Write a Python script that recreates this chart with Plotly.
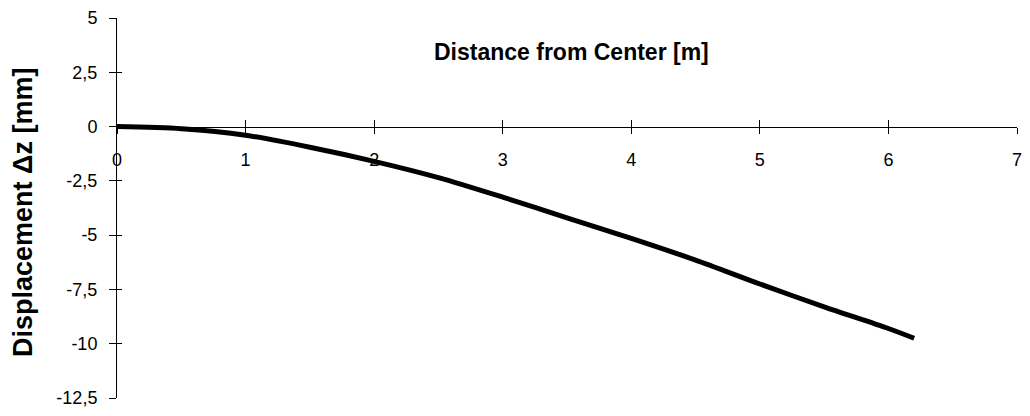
import plotly.graph_objects as go

# Radial profile: distance from centre [m] vs vertical displacement [mm]
distance_m = [0, 0.5, 1, 1.5, 2, 2.5, 3, 3.5, 4, 4.5, 5, 5.5, 6, 6.2]
displacement_mm = [0, -0.1, -0.4, -0.95, -1.6, -2.35, -3.25, -4.2, -5.15, -6.15, -7.25, -8.3, -9.3, -9.75]

x_ticks = [0, 1, 2, 3, 4, 5, 6, 7]
y_ticks = [5, 2.5, 0, -2.5, -5, -7.5, -10, -12.5]
y_tick_text = ["5", "2,5", "0", "-2,5", "-5", "-7,5", "-10", "-12,5"]

X_RANGE = [0, 7]
Y_RANGE = [-12.5, 5]
FONT = "Liberation Sans, Arial, sans-serif"
zero_pos = (0 - Y_RANGE[0]) / (Y_RANGE[1] - Y_RANGE[0])

fig = go.Figure()
fig.add_trace(go.Scatter(
    x=distance_m, y=displacement_mm, mode="lines",
    line=dict(color="black", width=5, shape="spline", smoothing=0.8),
    hoverinfo="skip", showlegend=False,
))
# companion trace on the overlay axes (carries the upper/right half of the cross ticks)
fig.add_trace(go.Scatter(
    x=distance_m, y=displacement_mm, mode="lines",
    line=dict(color="rgba(0,0,0,0)", width=0),
    xaxis="x2", yaxis="y2", hoverinfo="skip", showlegend=False,
))

axis_common = dict(showgrid=False, zeroline=False, color="black",
                   tickcolor="black", tickwidth=1)

fig.update_layout(
    width=1030, height=416,
    margin=dict(l=117, r=8, t=13, b=18),
    paper_bgcolor="white", plot_bgcolor="white",
    font=dict(family=FONT, color="black", size=18),
    xaxis=dict(
        range=X_RANGE, anchor="free", position=zero_pos,
        showline=True, linecolor="black", linewidth=1,
        tickvals=x_ticks, ticks="outside", ticklen=6,
        ticklabelstandoff=11, tickfont=dict(size=18),
        **axis_common,
    ),
    xaxis2=dict(
        range=X_RANGE, overlaying="x", anchor="free", position=zero_pos,
        showline=False, tickvals=x_ticks, ticks="inside", ticklen=7,
        showticklabels=False, **axis_common,
    ),
    yaxis=dict(
        range=Y_RANGE, showline=True, linecolor="black", linewidth=1,
        tickvals=y_ticks, ticktext=y_tick_text, ticks="outside", ticklen=7,
        ticklabelstandoff=8, tickfont=dict(size=18),
        **axis_common,
    ),
    yaxis2=dict(
        range=Y_RANGE, overlaying="y", anchor="x", side="left",
        showline=False, tickvals=y_ticks, ticks="inside", ticklen=5,
        showticklabels=False, **axis_common,
    ),
    annotations=[
        dict(text="<b>Distance from Center [m]</b>", xref="paper", yref="paper",
             x=0.505, y=0.9117, xanchor="center", yanchor="middle",
             showarrow=False, font=dict(size=23, family=FONT)),
        dict(text="<b>Displacement Δz [mm]</b>", xref="paper", yref="paper",
             x=-0.105, y=0.488, xanchor="center", yanchor="middle",
             textangle=-90, showarrow=False, font=dict(size=27, family=FONT)),
    ],
)

fig.write_html("out.html")
